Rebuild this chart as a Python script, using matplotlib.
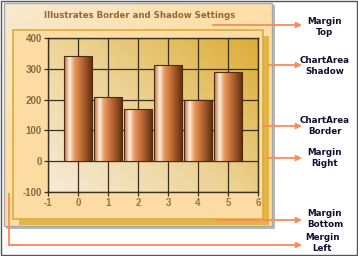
import numpy as np
from matplotlib import pyplot as plt
from matplotlib.patches import Rectangle
from matplotlib.colors import LinearSegmentedColormap

# chart values
x_vals = [0, 1, 2, 3, 4, 5]
y_vals = [340, 210, 170, 313, 200, 288]
x_ticks = [-1, 0, 1, 2, 3, 4, 5, 6]
y_ticks = [-100, 0, 100, 200, 300, 400]
title = "Illustrates Border and Shadow Settings"

# callouts on the right: (text, text y, arrow start x, arrow y)
callouts = [
    ("Margin\nTop", 27, 213, 25),
    ("ChartArea\nShadow", 66, 268, 65),
    ("ChartArea\nBorder", 126, 263, 126),
    ("Margin\nRight", 158, 267, 158),
    ("Margin\nBottom", 219, 217, 220),
]

W, H = 358, 256
fig = plt.figure(figsize=(W / 100, H / 100), dpi=100)
fig.patch.set_facecolor("white")

# background axes in pixel coords
bg = fig.add_axes([0, 0, 1, 1])
bg.set_xlim(0, W)
bg.set_ylim(H, 0)
bg.axis("off")

# outer frame of the picture
bg.add_patch(Rectangle((0.5, 0.5), W - 1.5, H - 1.5, fill=False, ec="#555555", lw=1))

# panel shadow + panel with gradient
bg.add_patch(Rectangle((6, 5), 269, 224, fc="#b8b8b8", ec="none"))
panel = Rectangle((4, 3), 268, 223, fc="none", ec="#a8a8a8", lw=1, zorder=2)
bg.add_patch(panel)
yy, xx = np.mgrid[0:1:100j, 0:1:100j]
panel_cmap = LinearSegmentedColormap.from_list("p", ["#f7ead0", "#fde0aa", "#fedca0"])
im = bg.imshow(np.clip(xx * 0.6 + yy * 0.8, 0, 1), cmap=panel_cmap, extent=(4, 272, 226, 3),
               aspect="auto", zorder=1)
im.set_clip_path(Rectangle((4, 3), 268, 223, transform=bg.transData))

# chart area shadow and border
bg.add_patch(Rectangle((19, 36), 250, 189, fc="#e2b548", ec="none", zorder=3))
bg.add_patch(Rectangle((13, 30), 250, 189, fc="#fddca4", ec="#d9ad3c", lw=1.2, zorder=4))

bg.text(140, 16, title, ha="center", va="center", fontsize=6.8, fontweight="bold",
        fontstretch="condensed", color="#9a6434", family="DejaVu Sans", zorder=5)

arrow_col = "#ff8a55"
for txt, ty, x0, ay in callouts:
    bg.annotate("", xy=(302, ay), xytext=(x0, ay),
                arrowprops=dict(arrowstyle="-|>", color=arrow_col, lw=1.3,
                                mutation_scale=8, shrinkA=0, shrinkB=0), zorder=6)
    bg.text(325, ty, txt, ha="center", va="center", fontsize=6.3, fontweight="bold",
            color="#101030", linespacing=1.15, zorder=6)

# Mergin Left callout (bent line)
bg.plot([9, 9, 20], [193, 245, 245], color=arrow_col, lw=1.3, zorder=6,
        solid_capstyle="butt")
bg.annotate("", xy=(302, 245), xytext=(9, 245),
            arrowprops=dict(arrowstyle="-|>", color=arrow_col, lw=1.3,
                            mutation_scale=8, shrinkA=0, shrinkB=0), zorder=6)
bg.text(322, 243, "Mergin\nLeft", ha="center", va="center", fontsize=6.3,
        fontweight="bold", color="#101030", linespacing=1.15, zorder=6)

# plot area
ax = fig.add_axes([48 / W, (H - 192) / H, 210 / W, 154 / H])
ax.set_zorder(2)
bgrad = LinearSegmentedColormap.from_list("g", ["#f6ebd6", "#ecd293", "#dcac34"])
ax.imshow(np.clip(xx * 0.55 + (1 - yy) * 0.45, 0, 1)[::-1], cmap=bgrad,
          extent=(-1, 6, -100, 400), origin="lower", aspect="auto", zorder=0)

grid_col = "#3a3020"
ax.set_xticks(x_ticks)
ax.set_yticks(y_ticks)
ax.grid(True, color=grid_col, lw=0.9, zorder=1)
ax.set_axisbelow(True)
for s in ax.spines.values():
    s.set_color(grid_col)
    s.set_linewidth(1)

bars = ax.bar(x_vals, y_vals, width=0.92, fc="none", ec="#4e2a10", lw=0.8, zorder=3)
cyl = LinearSegmentedColormap.from_list(
    "c", [(0, "#c46c34"), (0.2, "#fff0e2"), (0.36, "#e99c62"), (0.62, "#c06c36"),
          (1, "#66320f")])
grad = np.linspace(0, 1, 64).reshape(1, -1)
for b in bars:
    x0, w, h = b.get_x(), b.get_width(), b.get_height()
    bim = ax.imshow(grad, cmap=cyl, extent=(x0, x0 + w, 0, h), aspect="auto", zorder=2)
    bim.set_clip_path(b)
ax.set_xlim(-1, 6)
ax.set_ylim(-100, 400)

lab_font = dict(fontsize=7, fontweight="bold", family=["Liberation Sans", "DejaVu Sans"])
ax.set_xticklabels([str(t) for t in x_ticks], color="#a0703c", **lab_font)
ax.set_yticklabels([str(t) for t in y_ticks], color="#8a6a3e", **lab_font)
ax.tick_params(axis="both", length=3, width=0.9, color=grid_col, pad=1.5)

fig.savefig("out.png", dpi=100)
